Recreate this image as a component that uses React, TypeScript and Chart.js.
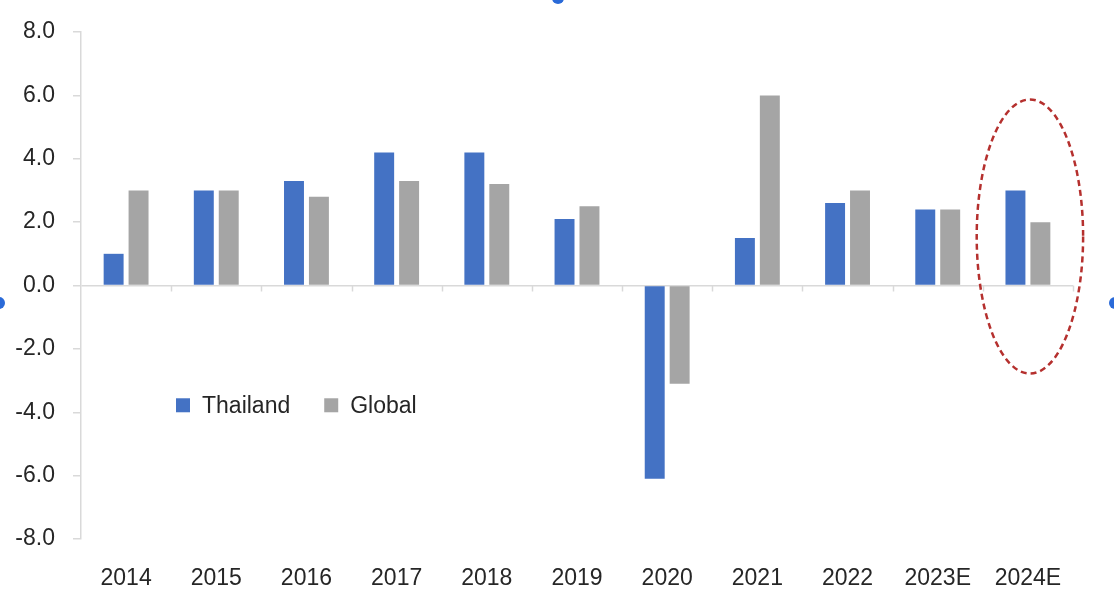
import React, { useEffect, useRef } from 'react';
import { Chart, registerables } from 'chart.js';

Chart.register(...registerables);

const categories = ['2014', '2015', '2016', '2017', '2018', '2019', '2020', '2021', '2022', '2023E', '2024E'];
const thailandValues = [1.0, 3.0, 3.3, 4.2, 4.2, 2.1, -6.1, 1.5, 2.6, 2.4, 3.0];
const globalValues = [3.0, 3.0, 2.8, 3.3, 3.2, 2.5, -3.1, 6.0, 3.0, 2.4, 2.0];
const yTickValues = [-8, -6, -4, -2, 0, 2, 4, 6, 8];
const seriesLabels = ['Thailand', 'Global'];
const seriesColors = ['#4472C4', '#A5A5A5'];
// highlight ellipse around the last category (value range on y axis)
const highlightIndex = 10;
const highlightTop = 5.87;
const highlightBottom = -2.78;

const FONT = "'Liberation Sans', Arial, sans-serif";
const TEXT = '#262626';
const AXIS = '#d9d9d9';

const extrasPlugin = {
  id: 'extras',
  afterDatasetsDraw(chart: any) {
    const { ctx, chartArea } = chart;
    const xs = chart.scales.x;
    const ys = chart.scales.y;
    const n = categories.length;
    const cw = xs.width / n;
    const y0 = ys.getPixelForValue(0);
    ctx.save();
    // category tick marks on zero line
    ctx.strokeStyle = AXIS;
    ctx.lineWidth = 1.5;
    for (let i = 1; i <= n; i++) {
      const x = Math.round(xs.left + i * cw) + 0.5;
      ctx.beginPath();
      ctx.moveTo(x, y0);
      ctx.lineTo(x, y0 + 6);
      ctx.stroke();
    }
    // legend
    ctx.font = `23px ${FONT}`;
    ctx.textBaseline = 'middle';
    ctx.textAlign = 'left';
    const ly = ys.getPixelForValue(-3.78);
    let lx = chartArea.left + 95;
    chart.data.datasets.forEach((ds: any) => {
      ctx.fillStyle = ds.backgroundColor;
      ctx.fillRect(lx, ly - 7, 14, 14);
      ctx.fillStyle = TEXT;
      ctx.fillText(ds.label, lx + 26, ly + 1);
      lx += 26 + ctx.measureText(ds.label).width + 34;
    });
    // dashed ellipse
    const cx = xs.getPixelForValue(highlightIndex);
    const top = ys.getPixelForValue(highlightTop);
    const bottom = ys.getPixelForValue(highlightBottom);
    ctx.strokeStyle = '#b5302e';
    ctx.lineWidth = 2.5;
    ctx.setLineDash([6, 4]);
    ctx.beginPath();
    ctx.ellipse(cx + 2, (top + bottom) / 2, cw * 0.59, (bottom - top) / 2, 0, 0, Math.PI * 2);
    ctx.stroke();
    ctx.restore();
  },
};

export default function App() {
  const ref = useRef<HTMLCanvasElement | null>(null);
  useEffect(() => {
    if (!ref.current) return;
    const chart = new Chart(ref.current, {
      type: 'bar',
      data: {
        labels: categories,
        datasets: [
          { label: seriesLabels[0], data: thailandValues, backgroundColor: seriesColors[0], categoryPercentage: 0.553, barPercentage: 0.8 },
          { label: seriesLabels[1], data: globalValues, backgroundColor: seriesColors[1], categoryPercentage: 0.553, barPercentage: 0.8 },
        ],
      },
      options: {
        animation: false,
        responsive: false,
        layout: { padding: { left: 8, right: 41, top: 32, bottom: 0 } },
        plugins: { legend: { display: false }, tooltip: { enabled: false } },
        scales: {
          x: {
            afterFit: (scale: any) => {
              scale.height = 69;
            },
            grid: { display: false, drawTicks: false },
            border: { display: false },
            ticks: { padding: 26, color: TEXT, font: { family: FONT, size: 23 }, maxRotation: 0, autoSkip: false },
          },
          y: {
            min: -8,
            max: 8,
            afterBuildTicks: (scale: any) => {
              scale.ticks = yTickValues.map((v) => ({ value: v }));
            },
            afterFit: (scale: any) => {
              scale.width = 73;
            },
            grid: {
              color: (c: any) => (c.tick && c.tick.value === 0 ? AXIS : 'rgba(0,0,0,0)'),
              tickColor: AXIS,
              tickLength: 8,
              lineWidth: 1.5,
            },
            border: { color: AXIS, width: 1.5 },
            ticks: {
              padding: 18,
              color: TEXT,
              font: { family: FONT, size: 23 },
              callback: (v: any) => Number(v).toFixed(1),
            },
          },
        },
      },
      plugins: [extrasPlugin],
    });
    return () => chart.destroy();
  }, []);

  const dot = (left: number, top: number) => (
    <div style={{ position: 'absolute', left, top, width: 12, height: 12, borderRadius: 6, background: '#2a6ad8' }} />
  );

  return (
    <div style={{ position: 'absolute', left: 0, top: 0, width: 1114, height: 608, overflow: 'hidden', background: '#fff' }}>
      <canvas ref={ref} width={1114} height={608} style={{ display: 'block' }} />
      {dot(-7, 297)}
      {dot(1109, 297)}
      {dot(552, -8)}
    </div>
  );
}
